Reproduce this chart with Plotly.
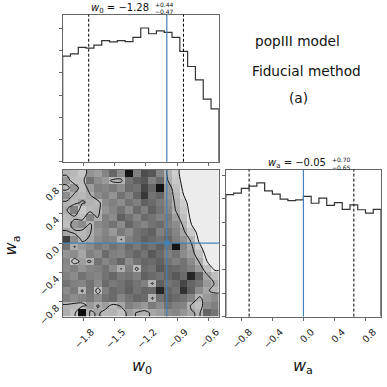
import numpy as np
import plotly.graph_objects as go

# marginal histograms (20 bins each, counts)
w0_counts = [950, 971, 1029, 1023, 1050, 1090, 1079, 1090, 1081, 1120,
             1204, 1152, 1178, 1164, 1120, 994, 857, 737, 564, 476]
wa_counts = [1035, 1047, 1088, 1107, 1134, 1066, 1038, 997, 983, 989,
             1019, 961, 1005, 944, 966, 909, 947, 906, 878, 909]

w0_range = [-2.0, -0.5]
wa_range = [-1.0, 1.0]

w0_truth = -1.0
wa_truth = 0.0
w0_quantiles = [-1.75, -0.84]
wa_quantiles = [-0.70, 0.65]

w0_ticks = [-1.8, -1.5, -1.2, -0.9, -0.6]
w0_ticktext = ["−1.8", "−1.5", "−1.2", "−0.9", "−0.6"]
wa_ticks = [-0.8, -0.4, 0.0, 0.4, 0.8]
wa_ticktext = ["−0.8", "−0.4", "0.0", "0.4", "0.8"]

# 2D shading (0 = white, 1 = black), rows from wa = +1 (top) to wa = -1 (bottom)
density_rows = [
    [0.30, 0.28, 0.22, 0.42, 0.38, 0.48, 0.60, 0.45, 0.92, 0.50, 0.70, 0.66, 0.48, 0.30, 0.20, 0.08, 0.05, 0.04, 0.04, 0.03],
    [0.40, 0.25, 0.26, 0.55, 0.45, 0.40, 0.28, 0.30, 0.55, 0.62, 0.66, 0.50, 0.58, 0.32, 0.22, 0.10, 0.05, 0.04, 0.04, 0.03],
    [0.28, 0.42, 0.25, 0.38, 0.50, 0.48, 0.52, 0.45, 0.58, 0.55, 0.72, 0.60, 0.92, 0.40, 0.25, 0.12, 0.06, 0.04, 0.03, 0.03],
    [0.45, 0.30, 0.28, 0.32, 0.45, 0.50, 0.42, 0.55, 0.48, 0.60, 0.78, 0.55, 0.60, 0.42, 0.28, 0.15, 0.07, 0.05, 0.04, 0.03],
    [0.30, 0.28, 0.35, 0.30, 0.28, 0.45, 0.50, 0.45, 0.55, 0.50, 0.62, 0.58, 0.52, 0.45, 0.30, 0.20, 0.08, 0.05, 0.04, 0.03],
    [0.32, 0.50, 0.22, 0.28, 0.30, 0.42, 0.48, 0.55, 0.45, 0.58, 0.50, 0.62, 0.55, 0.48, 0.32, 0.22, 0.10, 0.05, 0.04, 0.03],
    [0.28, 0.30, 0.26, 0.48, 0.32, 0.50, 0.45, 0.62, 0.55, 0.48, 0.58, 0.55, 0.50, 0.52, 0.38, 0.25, 0.12, 0.06, 0.04, 0.03],
    [0.25, 0.40, 0.45, 0.30, 0.46, 0.50, 0.55, 0.45, 0.60, 0.52, 0.48, 0.55, 0.58, 0.50, 0.45, 0.30, 0.15, 0.07, 0.05, 0.04],
    [0.35, 0.30, 0.28, 0.32, 0.42, 0.48, 0.40, 0.52, 0.45, 0.55, 0.58, 0.62, 0.50, 0.55, 0.48, 0.35, 0.22, 0.10, 0.05, 0.04],
    [0.75, 0.45, 0.30, 0.35, 0.45, 0.50, 0.48, 0.32, 0.50, 0.55, 0.62, 0.58, 0.55, 0.60, 0.50, 0.42, 0.30, 0.12, 0.06, 0.04],
    [0.55, 0.32, 0.40, 0.45, 0.52, 0.48, 0.55, 0.50, 0.58, 0.52, 0.60, 0.55, 0.62, 0.55, 0.92, 0.48, 0.35, 0.18, 0.07, 0.05],
    [0.42, 0.45, 0.35, 0.50, 0.45, 0.58, 0.50, 0.48, 0.55, 0.60, 0.55, 0.65, 0.58, 0.50, 0.55, 0.45, 0.38, 0.25, 0.10, 0.05],
    [0.48, 0.25, 0.38, 0.30, 0.55, 0.48, 0.52, 0.60, 0.45, 0.55, 0.60, 0.58, 0.62, 0.55, 0.50, 0.55, 0.45, 0.32, 0.15, 0.08],
    [0.45, 0.50, 0.42, 0.48, 0.50, 0.55, 0.45, 0.32, 0.50, 0.28, 0.58, 0.55, 0.65, 0.60, 0.58, 0.55, 0.50, 0.40, 0.25, 0.12],
    [0.50, 0.45, 0.55, 0.50, 0.48, 0.55, 0.60, 0.52, 0.55, 0.50, 0.62, 0.58, 0.55, 0.60, 0.65, 0.58, 0.85, 0.62, 0.35, 0.25],
    [0.55, 0.50, 0.48, 0.55, 0.45, 0.58, 0.52, 0.55, 0.60, 0.55, 0.50, 0.30, 0.62, 0.55, 0.58, 0.72, 0.60, 0.55, 0.40, 0.32],
    [0.45, 0.52, 0.30, 0.55, 0.25, 0.50, 0.58, 0.55, 0.62, 0.55, 0.60, 0.58, 0.85, 0.60, 0.55, 0.80, 0.62, 0.45, 0.35, 0.28],
    [0.50, 0.45, 0.48, 0.52, 0.45, 0.55, 0.58, 0.48, 0.55, 0.60, 0.58, 0.30, 0.55, 0.62, 0.58, 0.55, 0.48, 0.30, 0.40, 0.45],
    [0.30, 0.28, 0.25, 0.40, 0.32, 0.38, 0.28, 0.35, 0.50, 0.45, 0.40, 0.52, 0.45, 0.55, 0.50, 0.48, 0.30, 0.25, 0.45, 0.50],
    [0.32, 0.25, 0.95, 0.30, 0.35, 0.28, 0.30, 0.25, 0.38, 0.32, 0.30, 0.35, 0.38, 0.45, 0.48, 0.42, 0.35, 0.30, 0.60, 0.55],
]
outer_level = 0.15
inner_level = 0.33

W, H = 387, 387
FONT = "DejaVu Sans"
TRUTH = "#4682b4"
FRAME = "#666666"


def step_xy(edges, counts):
    xs = [edges[0]] + list(edges) + [edges[-1]]
    ys = [0] + list(counts) + [counts[-1], 0]
    return xs, ys


def px_x(p):
    return p / W


def px_y(p):
    return 1 - p / H


w0_edges = np.linspace(w0_range[0], w0_range[1], len(w0_counts) + 1)
wa_edges = np.linspace(wa_range[0], wa_range[1], len(wa_counts) + 1)
w0_mid = (w0_edges[:-1] + w0_edges[1:]) / 2
wa_mid = (wa_edges[:-1] + wa_edges[1:]) / 2
dens = np.array(density_rows[::-1])

# padded grid so the contours reach the frame
xc = np.concatenate([[w0_range[0]], w0_mid, [w0_range[1]]])
yc = np.concatenate([[wa_range[0]], wa_mid, [wa_range[1]]])
zc = np.pad(dens, 1, mode="edge")

fig = go.Figure()

# top histogram
hx, hy = step_xy(w0_edges, w0_counts)
fig.add_trace(go.Scatter(x=hx, y=hy, mode="lines", line=dict(color="#333", width=1.2, shape="hv"),
                         xaxis="x", yaxis="y", hoverinfo="skip"))
# right histogram
hx, hy = step_xy(wa_edges, wa_counts)
fig.add_trace(go.Scatter(x=hx, y=hy, mode="lines", line=dict(color="#333", width=1.2, shape="hv"),
                         xaxis="x3", yaxis="y3", hoverinfo="skip"))

# 2D panel: shaded cells
fig.add_trace(go.Heatmap(x=w0_mid, y=wa_mid, z=dens, zmin=0, zmax=1,
                         colorscale=[[0, "white"], [1, "black"]], showscale=False,
                         xaxis="x2", yaxis="y2", hoverinfo="skip"))
# low density area outside the outer contour
fig.add_trace(go.Contour(x=xc, y=yc, z=-zc, xaxis="x2", yaxis="y2",
                         contours=dict(coloring="fill", start=-outer_level, end=-outer_level, size=1),
                         colorscale=[[0, "rgba(255,255,255,0)"], [0.5, "rgba(255,255,255,0)"],
                                     [0.5, "rgb(236,236,236)"], [1, "rgb(236,236,236)"]],
                         zmin=-2 * outer_level, zmax=0, showscale=False,
                         line=dict(width=0, smoothing=1.0), hoverinfo="skip"))
# contour lines
fig.add_trace(go.Contour(x=xc, y=yc, z=zc, xaxis="x2", yaxis="y2",
                         contours=dict(coloring="lines", start=outer_level, end=inner_level,
                                       size=inner_level - outer_level),
                         colorscale=[[0, "#111"], [1, "#111"]], showscale=False,
                         line=dict(width=1, smoothing=1.0), hoverinfo="skip"))
fig.add_trace(go.Scatter(x=[w0_truth], y=[wa_truth], mode="markers",
                         marker=dict(color=TRUTH, size=5, symbol="square"),
                         xaxis="x2", yaxis="y2", hoverinfo="skip"))

# truth and quantile lines
for xr, yr, t, qs in [("x", "y", w0_truth, w0_quantiles), ("x3", "y3", wa_truth, wa_quantiles)]:
    for q in qs:
        fig.add_shape(type="line", xref=xr, yref=yr + " domain", x0=q, x1=q, y0=0, y1=1,
                      line=dict(color="black", width=1, dash="3px,2px"))
    fig.add_shape(type="line", xref=xr, yref=yr + " domain", x0=t, x1=t, y0=0, y1=1,
                  line=dict(color=TRUTH, width=1.2))
fig.add_shape(type="line", xref="x2", yref="y2 domain", x0=w0_truth, x1=w0_truth, y0=0, y1=1,
              line=dict(color=TRUTH, width=1.2))
fig.add_shape(type="line", xref="x2 domain", yref="y2", x0=0, x1=1, y0=wa_truth, y1=wa_truth,
              line=dict(color=TRUTH, width=1.2))

axis_style = dict(showline=True, mirror=True, linecolor=FRAME, linewidth=1, ticks="outside",
                  ticklen=3, tickcolor=FRAME, showgrid=False, zeroline=False,
                  tickfont=dict(family=FONT, size=9.5, color="#222"))
# matplotlib-like rotated labels: centred under the tick
xlab = dict(tickangle=-45, ticklabelshift=8, ticklabelstandoff=2)
ylab = dict(tickangle=-45, ticklabelshift=5)

top_dom_x = [px_x(63), px_x(220)]
low_dom_y = [px_y(325), px_y(174)]

fig.update_layout(
    width=W, height=H, margin=dict(l=0, r=0, t=0, b=0),
    paper_bgcolor="white", plot_bgcolor="white", showlegend=False,
    font=dict(family=FONT, color="#222"),
    xaxis=dict(domain=top_dom_x, anchor="y", range=w0_range, tickvals=w0_ticks,
               showticklabels=False, **axis_style),
    yaxis=dict(domain=[px_y(166), px_y(15)], anchor="x", range=[0, 1.1 * max(w0_counts)],
               dtick=200, showticklabels=False, **axis_style),
    xaxis2=dict(domain=top_dom_x, anchor="y2", range=w0_range, tickvals=w0_ticks,
                ticktext=w0_ticktext, **xlab, **axis_style),
    yaxis2=dict(domain=low_dom_y, anchor="x2", range=wa_range, tickvals=wa_ticks,
                ticktext=wa_ticktext, **ylab, **axis_style),
    xaxis3=dict(domain=[px_x(227), px_x(383)], anchor="y3", range=wa_range, tickvals=wa_ticks,
                ticktext=wa_ticktext, **xlab, **axis_style),
    yaxis3=dict(domain=low_dom_y, anchor="x3", range=[0, 1.1 * max(wa_counts)],
                dtick=200, showticklabels=False, **axis_style),
)

notes = [
    dict(text="<i>w</i><sub>0</sub> = −1.28", x=px_x(152), y=px_y(9), xanchor="right", size=10),
    dict(text="+0.44", x=px_x(154), y=px_y(4.5), xanchor="left", size=6),
    dict(text="−0.47", x=px_x(154), y=px_y(12), xanchor="left", size=6),
    dict(text="<i>w</i><sub>a</sub> = −0.05", x=px_x(330), y=px_y(168), xanchor="right", size=10),
    dict(text="+0.70", x=px_x(332), y=px_y(164), xanchor="left", size=6),
    dict(text="−0.65", x=px_x(332), y=px_y(171.5), xanchor="left", size=6),
    dict(text="popIII model", x=px_x(299), y=px_y(42), xanchor="center", size=13.7),
    dict(text="Fiducial method", x=px_x(308), y=px_y(73), xanchor="center", size=13.7),
    dict(text="(a)", x=px_x(300), y=px_y(101), xanchor="center", size=13.7),
    dict(text="<i>w</i><sub>0</sub>", x=px_x(143), y=px_y(376), xanchor="center", size=16),
    dict(text="<i>w</i><sub>a</sub>", x=px_x(305), y=px_y(376), xanchor="center", size=16),
]
for n in notes:
    fig.add_annotation(text=n["text"], x=n["x"], y=n["y"], xref="paper", yref="paper",
                       xanchor=n["xanchor"], yanchor="middle", showarrow=False,
                       font=dict(family=FONT, size=n["size"], color="#111"))
fig.add_annotation(text="<i>w</i><sub>a</sub>", x=px_x(12), y=px_y(252), xref="paper", yref="paper",
                   xanchor="center", yanchor="middle", textangle=-90, showarrow=False,
                   font=dict(family=FONT, size=16, color="#111"))

# drop the browser's default page margin so the figure sits at the window corner
fig.write_html("out.html", config={"displayModeBar": False},
               post_script="document.body.style.margin='0';")
